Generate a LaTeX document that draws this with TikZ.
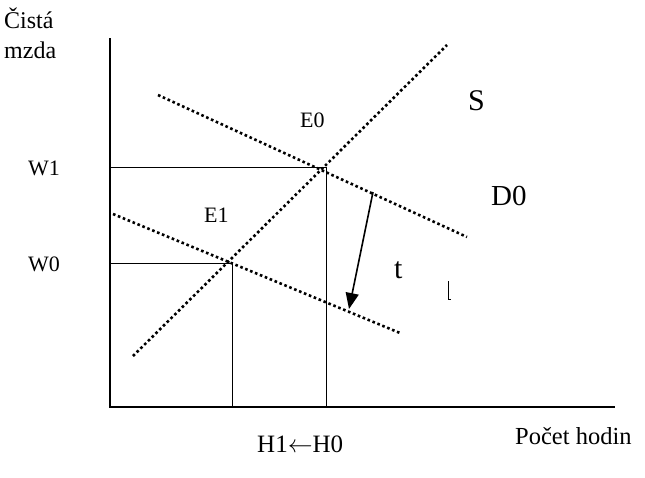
\documentclass[tikz,border=0pt]{standalone}
\usepackage{fontspec}
\setmainfont{Liberation Serif}
\usetikzlibrary{arrows.meta}
\begin{document}
\begin{tikzpicture}[x=1pt,y=-1pt,
  axis/.style={line width=1.3pt},
  guide/.style={line width=1pt},
  curve/.style={line width=2.6pt, dash pattern=on 2.6pt off 2.7pt},
  lbl/.style={anchor=base west, inner sep=0pt, font=\fontsize{22}{22}\selectfont},
  biglbl/.style={anchor=base west, inner sep=0pt, font=\fontsize{30}{30}\selectfont}]
\useasboundingbox (0,0) rectangle (645,477);
% axes
\coordinate (O) at (110,407);
\coordinate (Ytop) at (110,38);
\coordinate (Xend) at (615,407);
\draw[axis] (Ytop) -- (O) -- (Xend);
% equilibrium points
\coordinate (E0p) at (326,167);
\coordinate (E1p) at (232,263);
\coordinate (W1p) at (110,167);
\coordinate (W0p) at (110,263);
\coordinate (H0p) at (326,407);
\coordinate (H1p) at (232,407);
\draw[guide] (W1p) -- (E0p) -- (H0p);
\draw[guide] (W0p) -- (E1p) -- (H1p);
% curves
\coordinate (Sa) at (133,356);
\coordinate (Sb) at (447,45);
\coordinate (Da) at (158,95);
\coordinate (Db) at (467,237);
\coordinate (D1a) at (113,214);
\coordinate (D1b) at (400,333);
\draw[curve] (Sa) -- (Sb);
\draw[curve] (Da) -- (Db);
\draw[curve] (D1a) -- (D1b);
% arrow
\coordinate (Aa) at (373,192);
\coordinate (Ab) at (349,309);
\draw[line width=1.6pt, -{Triangle[length=16pt,width=13pt]}] (Aa) -- (Ab);
% small mark
\coordinate (Ma) at (448,281);
\coordinate (Mb) at (448,299);
\coordinate (Mc) at (451,299);
\draw[line width=0.8pt] (Ma) -- (Mb) -- (Mc);
% labels
\node[anchor=base west, inner sep=0pt, font=\fontsize{24}{24}\selectfont] (cista) at (4,28) {Čistá};
\node[anchor=base west, inner sep=0pt, font=\fontsize{24}{24}\selectfont] (mzda) at (4,58) {mzda};
\node[lbl] (w1) at (28,175) {W1};
\node[lbl] (w0) at (28,271) {W0};
\node[lbl] (e0) at (300,127) {E0};
\node[lbl] (e1) at (204,222) {E1};
\node[biglbl] (s) at (468,110) {S};
\node[anchor=base west, inner sep=0pt, font=\fontsize{29}{29}\selectfont] (d0) at (491,205) {D0};
\node[biglbl] (t) at (394,278) {t};
\node[anchor=base west, inner sep=0pt, font=\fontsize{25}{25}\selectfont] (h) at (257,452) {H1$\leftarrow$H0};
\node[anchor=base west, inner sep=0pt, font=\fontsize{24.5}{24.5}\selectfont] (pocet) at (515,444) {Počet hodin};
\end{tikzpicture}
\end{document}
